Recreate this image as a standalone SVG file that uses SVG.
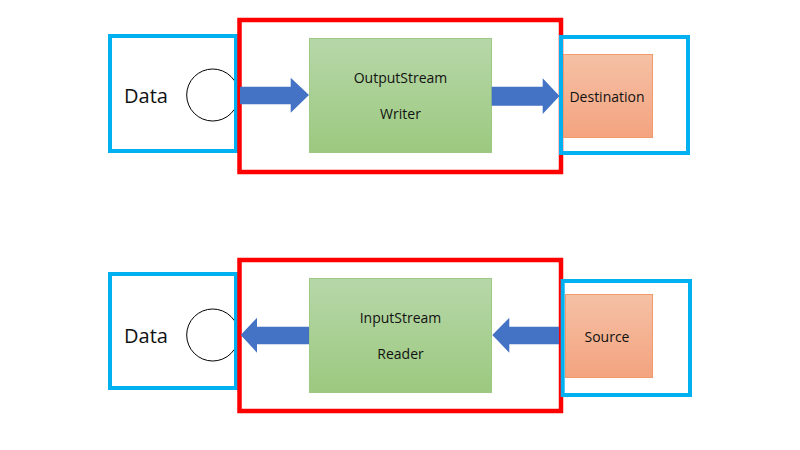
<svg xmlns="http://www.w3.org/2000/svg" width="800" height="450" viewBox="0 0 800 450">
<defs>
<linearGradient id="gGreen" x1="0" y1="0" x2="0" y2="1">
<stop offset="0" stop-color="#b7d7a9"/>
<stop offset="1" stop-color="#9cc97f"/>
</linearGradient>
<linearGradient id="gOrange" x1="0" y1="0" x2="0" y2="1">
<stop offset="0" stop-color="#f5c1a5"/>
<stop offset="1" stop-color="#f4a37f"/>
</linearGradient>
<style>
.blue{fill:none;stroke:#00b0f0;stroke-width:4}
.red{fill:none;stroke:#ff0000;stroke-width:4.5}
.circ{fill:#fff;stroke:#000;stroke-width:1}
.green{fill:url(#gGreen);stroke:#9cc983;stroke-width:1}
.orange{fill:url(#gOrange);stroke:#f19a6e;stroke-width:1}
.arrow{fill:#4472c4}
.big{font-family:"Open Sans","Noto Sans",sans-serif;font-size:20px;fill:#111}
.lbl{font-family:"Open Sans","Noto Sans",sans-serif;font-size:14px;fill:#111;text-anchor:middle}
</style>
</defs>
<rect width="800" height="450" fill="#fff"/>

<!-- Top row -->
<g id="data-top">
<circle class="circ" cx="212.7" cy="95" r="26"/>
<rect class="blue" x="110" y="36" width="126" height="115"/>
<text class="big" x="124" y="103">Data</text>
</g>
<g id="writer-frame">
<rect class="red" x="239.5" y="20" width="321.5" height="152"/>
</g>
<g id="writer">
<rect class="green" x="309.5" y="38.5" width="182" height="114"/>
<text class="lbl" x="400.5" y="83">OutputStream</text>
<text class="lbl" x="400.5" y="119">Writer</text>
</g>
<g id="destination">
<rect class="blue" x="561" y="37" width="127" height="116"/>
<rect class="orange" x="563.5" y="54.5" width="89" height="83"/>
<text class="lbl" x="607" y="102">Destination</text>
</g>

<!-- Bottom row -->
<g id="data-bottom">
<circle class="circ" cx="212.7" cy="335" r="26"/>
<rect class="blue" x="110" y="274" width="126" height="114"/>
<text class="big" x="124" y="343">Data</text>
</g>
<g id="reader-frame">
<rect class="red" x="239.5" y="260" width="321.5" height="151"/>
</g>
<g id="reader">
<rect class="green" x="309.5" y="278.5" width="182" height="114"/>
<text class="lbl" x="400.5" y="323">InputStream</text>
<text class="lbl" x="400.5" y="359">Reader</text>
</g>
<g id="source">
<rect class="blue" x="562.7" y="281" width="127.3" height="114"/>
<rect class="orange" x="565.5" y="294.5" width="87" height="83"/>
<text class="lbl" x="607" y="342">Source</text>
</g>

<g id="connectors">
<polygon class="arrow" points="240,86.7 290.7,86.7 290.7,77.7 309,95 290.7,112.7 290.7,104.3 240,104.3"/>
<polygon class="arrow" points="491.7,86.7 542.7,86.7 542.7,78.3 559.5,96 542.7,114 542.7,105.7 491.7,105.7"/>
<polygon class="arrow" points="309,326.7 257,326.7 257,317.7 240.7,335 257,352.7 257,344.3 309,344.3"/>
<polygon class="arrow" points="559,326.7 509.3,326.7 509.3,317.7 492.3,335 509.3,352.7 509.3,344.3 559,344.3"/>
</g>
</svg>
